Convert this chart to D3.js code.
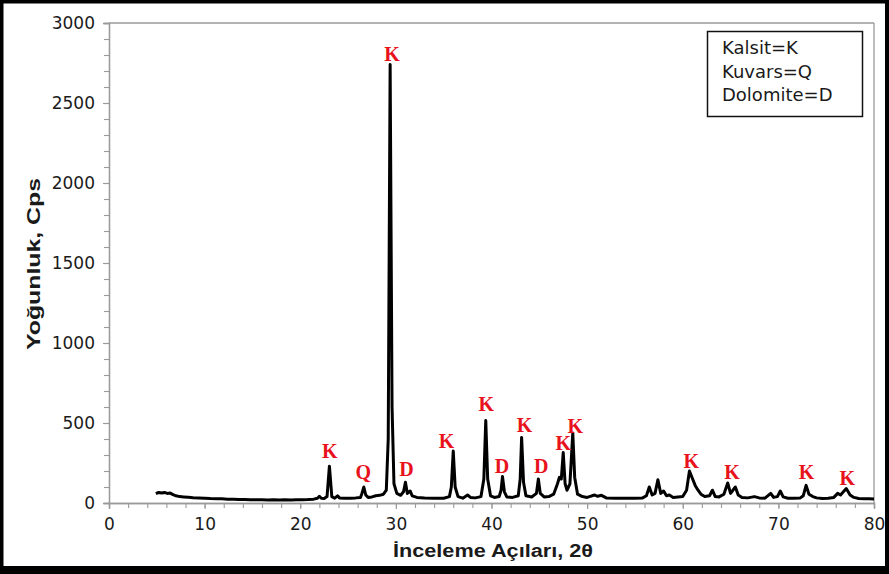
<!DOCTYPE html>
<html>
<head>
<meta charset="utf-8">
<script src="https://d3js.org/d3.v7.min.js"></script>
<style>
  html, body { margin: 0; padding: 0; background: #fff; }
  svg { display: block; }
</style>
</head>
<body>
<script>
// ---- data ----
const twoTheta = [4.9,5.2,5.5,5.8,6.1,6.4,6.7,7.0,7.4,7.8,8.3,8.8,9.4,10.0,10.6,11.2,11.8,12.4,13.0,13.6,14.2,14.8,15.4,16.0,16.6,17.2,17.8,18.4,19.0,19.6,20.2,20.8,21.4,21.8,22.0,22.2,22.5,22.8,23.05,23.3,23.6,23.9,24.1,24.6,25.2,25.8,26.3,26.45,26.65,26.85,27.1,27.5,27.9,28.3,28.7,29.0,29.2,29.4,29.6,29.8,30.1,30.5,30.8,31.0,31.2,31.5,31.7,32.2,33,34,35,35.6,35.8,36.0,36.2,36.5,37.0,37.5,37.8,38.3,38.9,39.2,39.4,39.6,39.9,40.3,40.8,41.0,41.15,41.35,41.6,42.2,42.8,43.0,43.15,43.35,43.6,44.2,44.7,44.9,45.1,45.5,46.0,46.5,46.9,47.1,47.3,47.5,47.7,47.9,48.2,48.5,48.7,49.0,49.5,50.0,50.5,50.8,51.1,51.5,52,53,54,55,55.8,56.2,56.5,56.8,57.1,57.4,57.7,58.0,58.3,58.6,59.0,59.5,60.0,60.4,60.7,61.0,61.3,61.6,61.9,62.3,62.8,63.1,63.4,63.8,64.3,64.7,65.0,65.5,65.8,66.2,66.8,67.5,68.0,68.6,69.2,69.5,69.9,70.2,70.5,71,71.6,72.3,72.6,72.9,73.2,73.6,74.0,74.6,75.2,75.8,76.2,76.5,77.1,77.5,77.9,78.4,79,79.5,80];
const intensity = [58,66,62,66,60,62,52,45,40,38,36,33,32,30,28,27,26,24,24,22,22,21,20,20,19,20,19,20,19,20,21,22,24,30,42,30,28,40,230,40,30,45,32,30,30,32,35,60,100,50,35,38,45,48,55,80,400,2740,600,120,60,48,70,130,60,75,45,35,32,30,30,40,100,325,100,40,30,50,35,32,40,150,515,150,45,35,40,80,165,70,38,35,45,150,410,130,45,38,60,150,60,38,40,55,120,160,150,315,120,80,120,437,160,55,40,35,45,50,42,48,32,30,30,30,32,45,100,50,60,145,60,75,45,50,35,38,40,80,200,155,110,80,55,40,45,80,40,38,55,125,60,100,50,35,32,40,32,30,60,35,40,75,38,30,30,32,45,110,55,40,32,28,30,35,60,50,90,50,35,28,26,27,25];

const peakLabels = ["K","Q","K","D","K","K","D","K","D","K","K","K","K","K","K"];
const peakLabelX = [23.1,26.6,29.6,31.1,35.3,39.45,41.1,43.45,45.2,47.5,48.75,60.9,65.15,72.95,77.2];
const peakLabelY = [281,150,2760,169,344,578,188,444,188,331,437,219,150,150,112];

const legendLines = ["Kalsit=K","Kuvars=Q","Dolomite=D"];

const xTicks = [0,10,20,30,40,50,60,70,80];
const yTicks = [0,500,1000,1500,2000,2500,3000];

const xTitle = "İnceleme Açıları, 2θ";
const yTitle = "Yoğunluk, Cps";

// ---- drawing ----
const W = 889, H = 574;
const svg = d3.select("body").append("svg").attr("width", W).attr("height", H);

svg.append("rect").attr("width", W).attr("height", H).attr("fill", "#fff");

const x = d3.scaleLinear().domain([0, 80]).range([109, 874]);
const y = d3.scaleLinear().domain([0, 3000]).range([503, 23]);

const axisColor = "#9a9a9a";
const textColor = "#1a1a1a";

// plot frame (top & right)
svg.append("line").attr("x1", x(0)).attr("x2", x(80)).attr("y1", y(3000)).attr("y2", y(3000))
  .attr("stroke", axisColor).attr("stroke-width", 1.3);
svg.append("line").attr("x1", x(80)).attr("x2", x(80)).attr("y1", y(3000)).attr("y2", y(0))
  .attr("stroke", axisColor).attr("stroke-width", 1.3);

// minor ticks
const gx = svg.append("g").attr("transform", `translate(0,${y(0)})`);
gx.call(d3.axisBottom(x).tickValues(d3.range(0, 81, 2)).tickSize(5).tickFormat(""));
const gy = svg.append("g").attr("transform", `translate(${x(0)},0)`);
gy.call(d3.axisLeft(y).tickValues(d3.range(0, 3001, 100)).tickSize(5).tickFormat(""));

// major ticks with labels
const gx2 = svg.append("g").attr("transform", `translate(0,${y(0)})`);
gx2.call(d3.axisBottom(x).tickValues(xTicks).tickSize(6).tickPadding(9).tickFormat(d3.format("d")));
const gy2 = svg.append("g").attr("transform", `translate(${x(0)},0)`);
gy2.call(d3.axisLeft(y).tickValues(yTicks).tickSize(6).tickPadding(8).tickFormat(d3.format("d")));

[gx, gy, gx2, gy2].forEach(g => {
  g.selectAll(".domain").attr("stroke", axisColor).attr("stroke-width", 1.3);
  g.selectAll(".tick line").attr("stroke", axisColor).attr("stroke-width", 1.1);
  g.selectAll(".tick text").attr("fill", textColor)
    .style("font-family", "'DejaVu Sans', sans-serif").style("font-size", "17px");
});

// trace
const pts = twoTheta.map((t, i) => [t, intensity[i]]);
const line = d3.line().x(d => x(d[0])).y(d => y(d[1]));
svg.append("path").datum(pts).attr("d", line)
  .attr("fill", "none").attr("stroke", "#000").attr("stroke-width", 3)
  .attr("stroke-linejoin", "round");

// peak labels
svg.append("g").selectAll("text").data(peakLabels).join("text")
  .attr("x", (d, i) => x(peakLabelX[i]))
  .attr("y", (d, i) => y(peakLabelY[i]))
  .attr("text-anchor", "middle")
  .attr("fill", "#e8121c")
  .style("font-family", "'Liberation Serif', 'Times New Roman', serif")
  .style("font-weight", "bold")
  .style("font-size", "20px")
  .text(d => d);

// legend
svg.append("rect").attr("x", 707.5).attr("y", 31.5).attr("width", 155).attr("height", 85)
  .attr("fill", "#fff").attr("stroke", "#111").attr("stroke-width", 1.5);
svg.append("g").selectAll("text").data(legendLines).join("text")
  .attr("x", 722).attr("y", (d, i) => 54 + i * 23.5)
  .attr("fill", textColor)
  .style("font-family", "'DejaVu Sans', sans-serif").style("font-size", "18px")
  .text(d => d);

// axis titles
svg.append("text").attr("x", 493).attr("y", 557).attr("text-anchor", "middle")
  .attr("fill", textColor)
  .attr("textLength", 200).attr("lengthAdjust", "spacingAndGlyphs")
  .style("font-family", "'Liberation Sans', Arial, sans-serif").style("font-weight", "bold").style("font-size", "18px")
  .text(xTitle);
svg.append("text").attr("transform", "translate(40,264) rotate(-90)").attr("text-anchor", "middle")
  .attr("fill", textColor)
  .attr("textLength", 172).attr("lengthAdjust", "spacingAndGlyphs")
  .style("font-family", "'Liberation Sans', Arial, sans-serif").style("font-weight", "bold").style("font-size", "19px")
  .text(yTitle);

// outer black frame
svg.append("rect").attr("x", 0).attr("y", 0).attr("width", W).attr("height", 3.5).attr("fill", "#000");
svg.append("rect").attr("x", 0).attr("y", 0).attr("width", 3.5).attr("height", H).attr("fill", "#000");
svg.append("rect").attr("x", W - 4).attr("y", 0).attr("width", 4).attr("height", H).attr("fill", "#000");
svg.append("rect").attr("x", 0).attr("y", 566).attr("width", W).attr("height", H - 566).attr("fill", "#000");
</script>
</body>
</html>
